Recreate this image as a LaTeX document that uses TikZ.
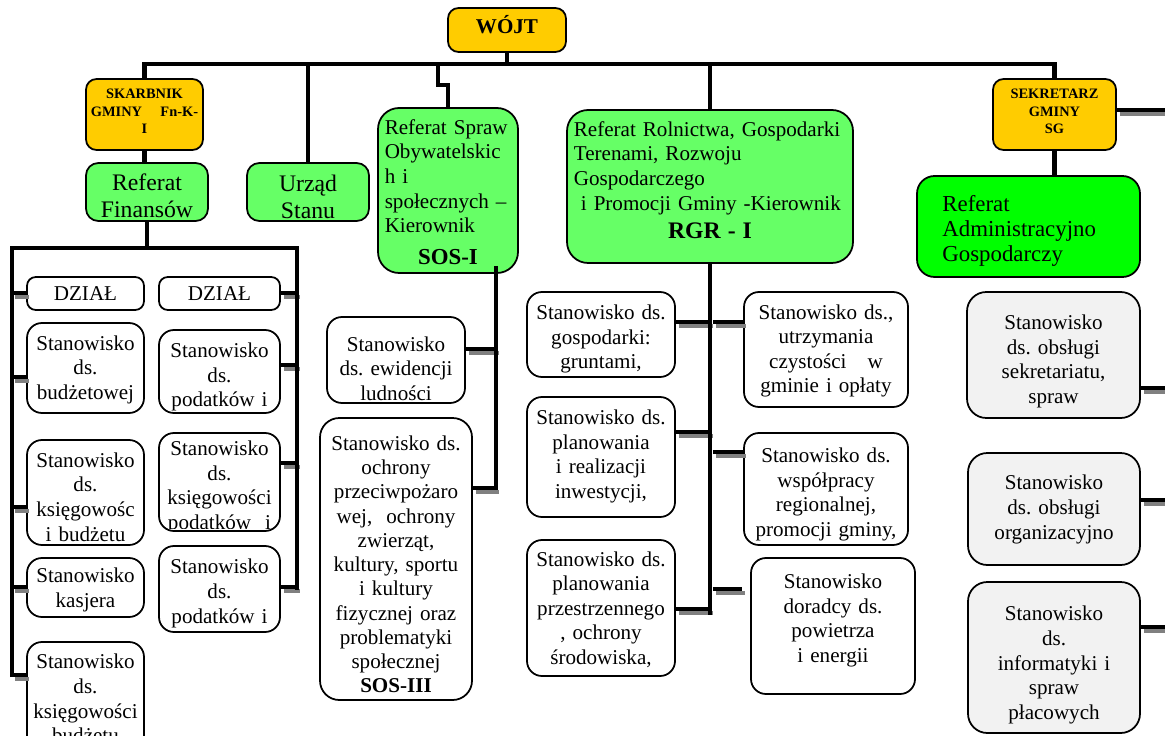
\documentclass[tikz,border=0pt]{standalone}
\usepackage{fontspec}
\setmainfont{Liberation Serif}
\usetikzlibrary{fit,calc}
\frenchspacing

\definecolor{szef}{RGB}{255,204,0}
\definecolor{referat}{RGB}{102,255,102}
\definecolor{admin}{RGB}{0,255,0}
\definecolor{szary}{RGB}{242,242,242}

\newcommand\postfont{\fontsize{12}{14}\selectfont}
\newcommand\reffont{\fontsize{13.5}{15.3}\selectfont}
\newcommand\chieffont{\fontsize{8.2}{9.9}\selectfont\bfseries}

\tikzset{
  conn/.style={line width=2.6pt},
  shad/.style={line width=2.6pt, draw=black!50},
  box/.style={draw, line width=1pt, inner sep=0pt, rounded corners=8.5pt, fill=white},
  chief/.style={box, fill=szef, rounded corners=6pt},
  dept/.style={box, fill=referat, rounded corners=12pt},
  post/.style={box, fill=szary, rounded corners=11pt},
  % text kept inside the box, cut off at its lower edge
  intext/.style n args={3}{path picture={
      \clip[sharp corners] ([yshift=1.5pt]path picture bounding box.south west) rectangle (path picture bounding box.north east);
      \node[anchor=north, inner sep=0pt, draw=none, fill=none, align=center, font=\postfont, #2]
        at ([yshift={-#1*0.567pt}]path picture bounding box.north) {#3};}},
}

\begin{document}
\begin{tikzpicture}[x=0.02cm, y=-0.02cm]
  \useasboundingbox (0,0) rectangle (1165,736);
  \clip (0,0) rectangle (1165,736);
  \fill[white] (0,0) rectangle (1165,736);

  % kierownictwo
  \node[chief, fit={(448,8) (566,52)}, intext={3}{font=\fontsize{12}{14}\selectfont\bfseries}{WÓJT}] (wojt) {};
  \node[chief, fit={(86,79) (203,150)}, intext={1}{font=\chieffont, text width=61pt}{SKARBNIK\\ GMINY\hfill Fn-K-\\ I}] (skarbnik) {};
  \node[chief, fit={(993,79) (1116,150)}, intext={1}{font=\chieffont}{SEKRETARZ\\ GMINY\\ SG}] (sekretarz) {};

  % referaty
  \node[dept, rounded corners=7pt, fit={(86,163) (208,221)}, intext={11}{font=\reffont}{Referat\\ Finansów}] (finanse) {};
  \node[dept, rounded corners=7pt, fit={(247,163) (369,221)}, intext={12}{font=\reffont}{Urząd\\ Stanu}] (usc) {};
  \node[dept, fit={(378,108) (518,273)}, intext={8}{text width=72pt, align=left}{Referat Spraw\\ Obywatelskic\\ h i\\ społecznych –\\ Kierownik\\[4pt] \hspace*{\fill}{\fontsize{13}{14}\selectfont\bfseries SOS-I}\hspace*{\fill}\null}] (sos) {};
  \node[dept, fit={(567,110) (853,263)}, intext={0}{text width=155pt, align=left}{Referat Rolnictwa, Gospodarki\\ Terenami, Rozwoju\\ Gospodarczego\\ \hspace*{4pt}i Promocji Gminy -Kierownik\\[2pt] \hspace*{\fill}{\fontsize{13.5}{14}\selectfont\bfseries RGR - I}\hspace*{\fill}\null}] (rgr) {};
  \node[dept, fill=admin, rounded corners=10pt, fit={(917,176) (1140,277)}, intext={12}{font=\fontsize{13}{14.2}\selectfont, text width=98pt, align=left}{Referat\\ Administracyjno\\ Gospodarczy}] (admin) {};

  % stanowiska - finanse
  \node[box, rounded corners=5pt, fit={(27,277) (144,310)}, intext={6}{}{DZIAŁ}] (dzialA) {};
  \node[box, rounded corners=5pt, fit={(159,277) (280,310)}, intext={6}{}{DZIAŁ}] (dzialB) {};
  \node[box, fit={(27,323) (144,413)}, intext={8}{}{Stanowisko\\ ds.\\ budżetowej}] (budzet) {};
  \node[box, fit={(159,330) (280,413)}, intext={12}{}{Stanowisko\\ ds.\\ podatków i}] (podatki) {};
  \node[box, fit={(27,440) (144,545)}, intext={11}{}{Stanowisko\\ ds.\\ księgowośc\\ i budżetu}] (ksieg) {};
  \node[box, fit={(159,433) (280,531)}, intext={12}{}{Stanowisko\\ ds.\\ księgowości\\ podatków\ \ i}] (ksiegpod) {};
  \node[box, fit={(27,558) (144,617)}, intext={9}{}{Stanowisko\\ kasjera}] (kasjer) {};
  \node[box, fit={(159,546) (280,632)}, intext={11}{}{Stanowisko\\ ds.\\ podatków i}] (podatki2) {};
  \node[box, fit={(27,642) (144,760)}, intext={4}{}{Stanowisko\\ ds.\\ księgowości\\ budżetu}] (ksiegbud) {};

  % stanowiska - SOS
  \node[box, fit={(327,317) (465,403)}, intext={15}{}{Stanowisko\\ ds. ewidencji\\ ludności}] (ewid) {};
  \node[box, rounded corners=11pt, fit={(320,418) (472,700)}, intext={12}{font=\fontsize{12}{13.8}\selectfont}{Stanowisko ds.\\ ochrony\\ przeciwpożaro\\ wej,\ \ ochrony\\ zwierząt,\\ kultury, sportu\\ i kultury\\ fizycznej oraz\\ problematyki\\ społecznej\\ {\bfseries SOS-III}}] (sos3) {};

  % stanowiska - RGR
  \node[box, fit={(527,292) (675,377)}, intext={11}{}{Stanowisko ds.\\ gospodarki:\\ gruntami,}] (grunty) {};
  \node[box, fit={(527,397) (675,517)}, intext={6}{}{Stanowisko ds.\\ planowania\\ i realizacji\\ inwestycji,}] (inwest) {};
  \node[box, fit={(527,540) (675,676)}, intext={8}{}{Stanowisko ds.\\ planowania\\ przestrzennego\\ , ochrony\\ środowiska,}] (przestrzen) {};
  \node[box, fit={(744,292) (908,407)}, intext={8}{}{Stanowisko ds.,\\ utrzymania\\ czystości\quad w\\ gminie i opłaty}] (czystosc) {};
  \node[box, fit={(744,433) (908,545)}, intext={12}{}{Stanowisko ds.\\ współpracy\\ regionalnej,\\ promocji gminy,}] (wspolpraca) {};
  \node[box, fit={(751,558) (915,694)}, intext={1}{}{Stanowisko\\ doradcy ds.\\ powietrza\\ i energii}] (doradca) {};

  % stanowiska - sekretarz
  \node[post, fit={(967,292) (1140,418)}, intext={13}{}{Stanowisko\\ ds. obsługi\\ sekretariatu,\\ spraw}] (sekretariat) {};
  \node[post, fit={(968,453) (1140,565)}, intext={7}{}{Stanowisko\\ ds. obsługi\\ organizacyjno}] (organiz) {};
  \node[post, fit={(968,582) (1140,733)}, intext={14}{}{Stanowisko\\ ds.\\ informatyki i\\ spraw\\ płacowych}] (informatyk) {};

  % linie
  \coordinate (bus) at (0,65);
  \coordinate (ramaL) at (12,248);
  \coordinate (ramaP) at (297,248);
  \coordinate (sosOs) at (496,266);
  \coordinate (prawo) at (1165,0);

  \draw[conn] (skarbnik.north) -- ++(0,-14) -| (sekretarz.north);
  \draw[conn] (wojt.south) -- (wojt.south |- bus);
  \draw[conn] (usc.north) -- (usc.north |- bus);
  \draw[conn] (rgr.north) -- (rgr.north |- bus);
  \draw[conn] (sos.north) -- ++(0,-22) -- ++(-10,0) -- ++(0,-21);
  \draw[conn] (skarbnik.south) -- (skarbnik.south |- finanse.north);
  \draw[conn] (sekretarz.south) -- (sekretarz.south |- admin.north);
  \draw[conn] (finanse.south) -- (finanse.south |- ramaL);

  % cienie
  \foreach \n/\y in {dzialA/293, budzet/377, ksieg/507, kasjer/587, ksiegbud/675}
    \draw[shad] ($(ramaL |- 0,\y)+(3,4)$) -- ($(\n.west |- 0,\y)+(3,4)$);
  \foreach \n/\y in {dzialB/293, podatki/365, ksiegpod/463, podatki2/587}
    \draw[shad] ($(\n.east |- 0,\y)+(3,4)$) -- ($(ramaP |- 0,\y)+(3,4)$);
  \foreach \n/\y in {ewid/349, sos3/488}
    \draw[shad] ($(\n.east |- 0,\y)+(3,4)$) -- ($(sosOs |- 0,\y)+(3,4)$);
  \foreach \n/\y in {grunty/322, inwest/432, przestrzen/609}
    \draw[shad] ($(\n.east |- 0,\y)+(3,4)$) -- ($(rgr.south |- 0,\y)+(3,4)$);
  \foreach \n/\y in {czystosc/322, wspolpraca/452}
    \draw[shad] ($(rgr.south |- 0,\y)+(6,4)$) -- ($(\n.west |- 0,\y)+(3,4)$);
  \draw[shad] ($(rgr.south |- 0,589)+(6,4)$) -- ($(doradca.west |- 0,589)+(-5,4)$);
  \foreach \n/\y in {sekretarz/110, sekretariat/388, organiz/500, informatyk/627}
    \draw[shad] ($(\n.east |- 0,\y)+(3,4)$) -- ($(prawo |- 0,\y)+(3,4)$);

  % pion finanse
  \draw[conn] (ramaL |- 0,677) -- (ramaL) -- (ramaP) -- (ramaP |- 0,590);
  \foreach \n/\y in {dzialA/293, budzet/377, ksieg/507, kasjer/587, ksiegbud/675}
    \draw[conn] (ramaL |- 0,\y) -- (\n.west |- 0,\y);
  \foreach \n/\y in {dzialB/293, podatki/365, ksiegpod/463, podatki2/587}
    \draw[conn] (\n.east |- 0,\y) -- (ramaP |- 0,\y);

  % pion SOS
  \draw[conn] (sosOs) -- (sosOs |- 0,490);
  \foreach \n/\y in {ewid/349, sos3/488}
    \draw[conn] (\n.east |- 0,\y) -- (sosOs |- 0,\y);

  % pion RGR
  \draw[conn] (rgr.south) -- (rgr.south |- 0,615);
  \foreach \n/\y in {grunty/322, inwest/432, przestrzen/609}
    \draw[conn] (\n.east |- 0,\y) -- (rgr.south |- 0,\y);
  \foreach \n/\y in {czystosc/322, wspolpraca/452}
    \draw[conn] ($(rgr.south |- 0,\y)+(3,0)$) -- (\n.west |- 0,\y);
  \draw[conn] ($(rgr.south |- 0,589)+(3,0)$) -- ($(doradca.west |- 0,589)+(-8,0)$);

  % do prawej krawędzi
  \foreach \n/\y in {sekretarz/110, sekretariat/388, organiz/500, informatyk/627}
    \draw[conn] (\n.east |- 0,\y) -- (prawo |- 0,\y);
\end{tikzpicture}
\end{document}
